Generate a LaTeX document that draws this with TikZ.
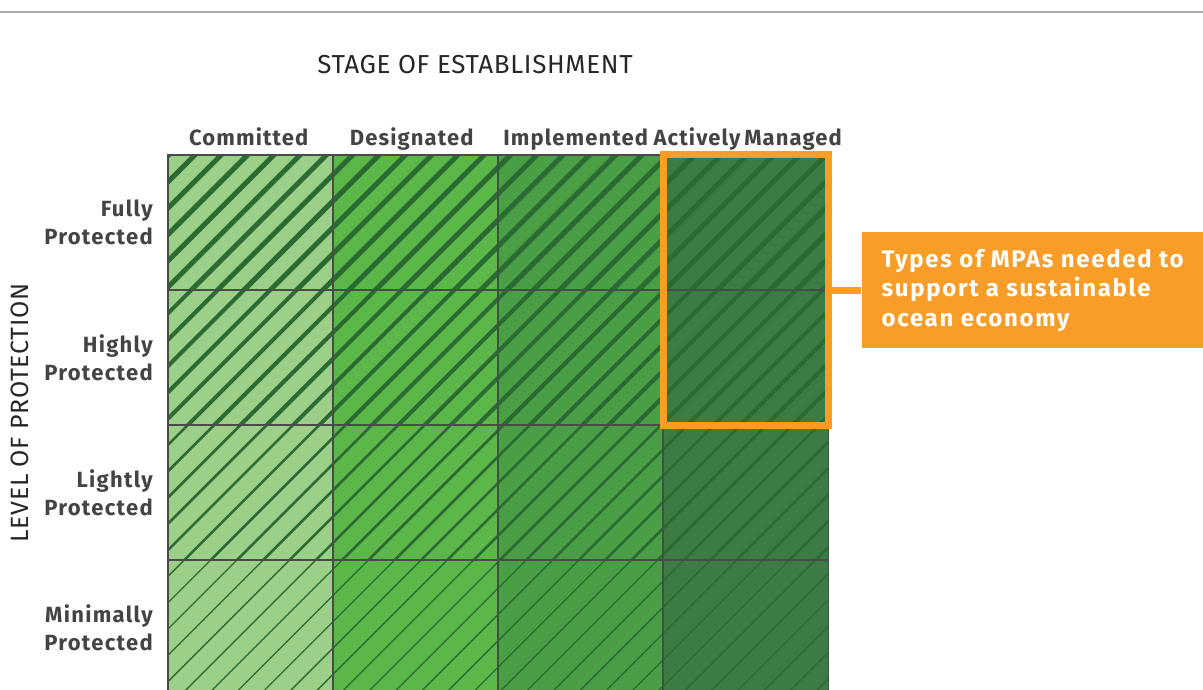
\documentclass[tikz,border=0pt]{standalone}
\usepackage{fontspec}
\setmainfont{Fira Sans}
\newfontfamily\headfont{Fira Sans}[LetterSpace=5,WordSpace=0.6]
\newfontfamily\labfont{Fira Sans}[LetterSpace=6]
\newfontfamily\notefont{Fira Sans}[LetterSpace=7]
\newfontfamily\axisfont{Fira Sans}[LetterSpace=2.5]
\usetikzlibrary{positioning}
\definecolor{lightgrn}{HTML}{9CCF88}
\definecolor{midgrn}{HTML}{5AB748}
\definecolor{deepgrn}{HTML}{4A9E46}
\definecolor{darkgrn}{HTML}{3C7B45}
\definecolor{hatchgrn}{HTML}{2B6A32}
\definecolor{gridgray}{HTML}{4A4A4A}
\definecolor{labgray}{HTML}{444444}
\definecolor{mpaorange}{HTML}{F89D28}
\definecolor{rulegray}{HTML}{AAAAAA}
\begin{document}
\begin{tikzpicture}[x=1pt,y=-1pt,
cell/.style = {minimum width=165pt, minimum height=135pt, inner sep=0pt, anchor=north west},
hatch/.style = {hatchgrn, line cap=butt},
gridline/.style = {gridgray, line width=1.5pt},
colhead/.style = {font=\headfont\bfseries\fontsize{22}{26}\selectfont, text=labgray, inner sep=0pt, text height=15pt, text depth=5pt},
rowhead/.style = {font=\labfont\bfseries\fontsize{22}{28}\selectfont, text=labgray, align=right, inner sep=0pt},
axis/.style = {font=\axisfont\fontsize{26}{30}\selectfont, text=black!85},
frame/.style = {mpaorange, line width=7pt},
callout/.style = {fill=mpaorange, text=white, font=\notefont\bfseries\fontsize{24}{29.5}\selectfont, align=left, minimum width=342pt, minimum height=116pt, inner sep=0pt},
]
\useasboundingbox (0,0) rectangle (1203,690);
\clip (0,0) rectangle (1203,690);
\draw[rulegray, line width=1.5pt] (0,12) -- (1203,12);
\node (title) at (475,65) [axis] {STAGE OF ESTABLISHMENT};
\node (level) at (20,413) [axis, font=\axisfont\fontsize{25}{30}\selectfont, rotate=90] {LEVEL OF PROTECTION};
\foreach \fillc [count=\i] in {lightgrn,midgrn,deepgrn,darkgrn}
  \foreach \j in {1,...,4}
    \node (c\i\j) at ({168+165*(\i-1)},{155+135*(\j-1)}) [cell, fill=\fillc] {};
\foreach \w [count=\j] in {5,4,2.6,1.3}{
  \begin{scope}
    \clip (c1\j.north west) rectangle (c4\j.south east);
    \foreach \k in {11,...,59}
      \draw[hatch, line width=\w pt] ({26.3*\k+8-165-135*\j},{165+135*\j}) -- ++(200,-200);
  \end{scope}
}
\foreach \i in {1,...,4}
  \foreach \j in {1,...,4}
    \draw[gridline] (c\i\j.north west) rectangle (c\i\j.south east);
\foreach \name/\dx [count=\i] in {Committed/-2,Designated/-4,Implemented/-5,Actively Managed/2}
  \node (h\i) [colhead, above=4pt of c\i1, xshift=\dx pt] {\name};
\foreach \name [count=\j] in {Fully,Highly,Lightly,Minimally}
  \node (r\j) [rowhead, left=15pt of c1\j] {\name\\Protected};
\draw[frame] (c41.north west) rectangle (c42.south east);
\node (mpa) [callout, right=33pt of c41.south east] {Types of MPAs needed to\\support a sustainable\\ocean economy};
\draw[frame] (c41.south east) -- (mpa);
\end{tikzpicture}
\end{document}
